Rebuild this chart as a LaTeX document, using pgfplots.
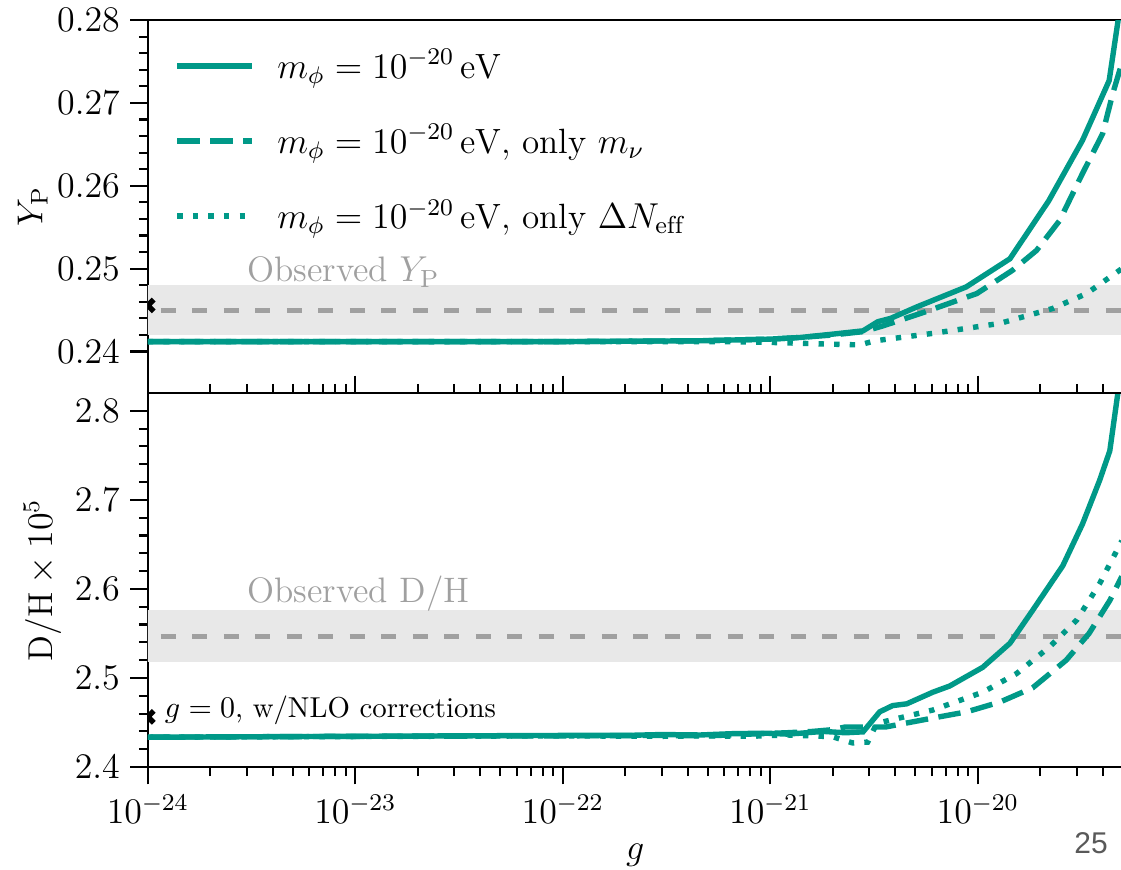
\documentclass[border=0pt]{standalone}
\usepackage{fontspec}
\newfontfamily\pagefont{Liberation Sans}
\usepackage{pgfplots}
\pgfplotsset{compat=1.18}

\definecolor{teal1}{HTML}{009988}
\definecolor{bandgray}{HTML}{E8E8E8}
\definecolor{dashgray}{HTML}{A0A0A0}

\begin{document}
\begin{tikzpicture}
\path[use as bounding box] (0,0) rectangle (373.7pt,289.7pt);

% ---------- bottom panel ----------
\begin{axis}[
  scale only axis, width=325pt, height=124.7pt,
  xmode=log, xmin=1e-24, xmax=5e-20,
  at={(49.3pt,34pt)}, anchor=south west,
  axis line style={line width=0.7pt},
  tick style={line width=0.7pt, black},
  major tick length=5.8pt, minor tick length=3pt,
  tick align=outside, ytick pos=left,
  font=\fontsize{11.5}{14}\selectfont,
  clip marker paths=true,
  ymin=2.4, ymax=2.82,
  ytick={2.4,2.5,2.6,2.7,2.8},
  minor y tick num=4,
  yticklabel style={/pgf/number format/.cd, fixed, fixed zerofill, precision=1},
  xtick pos=both, xticklabel pos=lower,
  xlabel={$g$},
  ylabel={$\mathrm{D/H}\times 10^5$},
  ylabel style={yshift=-2.3pt},
]
\addplot[fill=bandgray, draw=none, forget plot] coordinates {(1e-25,2.518) (1e-19,2.518) (1e-19,2.576) (1e-25,2.576)} -- cycle;
\addplot[dashgray, line width=1.7pt, dash pattern=on 5pt off 5.5pt, forget plot] coordinates {(1e-25,2.547) (1e-19,2.547)};
\node[anchor=base west, inner sep=0pt, text=dashgray, font=\fontsize{11.8}{14}\selectfont] at (axis cs:3e-24,2.585) {Observed D/H};
\addplot[only marks, mark=x, mark size=2.8pt, black, line width=1.8pt, forget plot] coordinates {(1e-24,2.4564)};
\node[anchor=base west, inner sep=0pt, font=\fontsize{9.6}{11}\selectfont] at (axis cs:1.2e-24,2.4555) {$g=0$, w/NLO corrections};

\addplot[teal1, line width=1.8pt] coordinates {(1e-24,2.4335) (3e-24,2.4340) (1e-23,2.4345) (3e-23,2.4350) (1e-22,2.4355) (2e-22,2.4355) (3e-22,2.4365) (4.6e-22,2.4360) (6.6e-22,2.4375) (9.6e-22,2.4380) (1.2e-21,2.4370) (1.4e-21,2.4380) (1.8e-21,2.4400) (2.3e-21,2.4385) (2.8e-21,2.4395) (3.37e-21,2.462) (3.89e-21,2.469) (4.55e-21,2.471) (6.07e-21,2.484) (7.33e-21,2.491) (1.057e-20,2.512) (1.43e-20,2.539) (1.84e-20,2.576) (2.57e-20,2.626) (3.2e-20,2.673) (3.87e-20,2.722) (4.33e-20,2.755) (4.73e-20,2.819) (4.95e-20,2.86)};
\addplot[teal1, line width=1.8pt, dash pattern=on 7.5pt off 3.5pt] coordinates {(1e-24,2.4335) (1e-23,2.4345) (1e-22,2.4350) (3e-22,2.4355) (5e-22,2.4350) (8e-22,2.4370) (1.2e-21,2.4385) (1.6e-21,2.4400) (2.0e-21,2.4420) (2.3e-21,2.4450) (2.9e-21,2.4450) (3.6e-21,2.4450) (6.07e-21,2.455) (8.85e-21,2.462) (1.28e-20,2.473) (1.84e-20,2.489) (2.67e-20,2.520) (3.44e-20,2.550) (4.33e-20,2.587) (4.95e-20,2.614)};
\addplot[teal1, line width=1.8pt, dash pattern=on 1.8pt off 3.4pt] coordinates {(1e-24,2.4335) (1e-22,2.4350) (3e-22,2.4345) (5e-22,2.4350) (8e-22,2.4345) (1.2e-21,2.4360) (1.6e-21,2.4350) (2.0e-21,2.4340) (2.5e-21,2.427) (2.95e-21,2.428) (3.26e-21,2.449) (6.07e-21,2.464) (1.057e-20,2.484) (1.54e-20,2.505) (2.22e-20,2.535) (3.0e-20,2.565) (3.87e-20,2.606) (4.95e-20,2.654)};
\end{axis}

% ---------- top panel ----------
\begin{axis}[
  scale only axis, width=325pt, height=124.3pt,
  xmode=log, xmin=1e-24, xmax=5e-20,
  at={(49.3pt,158.7pt)}, anchor=south west,
  axis line style={line width=0.7pt},
  tick style={line width=0.7pt, black},
  major tick length=5.8pt, minor tick length=3pt,
  tick align=outside, ytick pos=left,
  font=\fontsize{11.5}{14}\selectfont,
  clip marker paths=true,
  ymin=0.235, ymax=0.28,
  ytick={0.24,0.25,0.26,0.27,0.28},
  minor y tick num=4,
  yticklabel style={/pgf/number format/.cd, fixed, fixed zerofill, precision=2},
  xmajorticks=false, xminorticks=false,
  ylabel={$Y_{\mathrm{P}}$},
  ylabel style={yshift=-3.7pt},
  legend cell align=left,
  legend style={draw=none, fill=none, at={(0.0175,0.955)}, anchor=north west,
    row sep=10pt, font=\fontsize{11.7}{14}\selectfont,
    nodes={inner xsep=0pt},
    /tikz/every odd column/.append style={column sep=7.5pt}},
  legend image code/.code={\draw[#1] (0pt,0pt) -- (25pt,0pt);},
]
\addplot[fill=bandgray, draw=none, forget plot] coordinates {(1e-25,0.242) (1e-19,0.242) (1e-19,0.248) (1e-25,0.248)} -- cycle;
\addplot[dashgray, line width=1.7pt, dash pattern=on 5pt off 5.5pt, forget plot] coordinates {(1e-25,0.245) (1e-19,0.245)};
\node[anchor=base west, inner sep=0pt, text=dashgray, font=\fontsize{11.8}{14}\selectfont] at (axis cs:3e-24,0.2484) {Observed $Y_{\mathrm{P}}$};
\addplot[only marks, mark=x, mark size=2.8pt, black, line width=1.8pt, forget plot] coordinates {(1e-24,0.24556)};

\addplot[teal1, line width=1.8pt] coordinates {(1e-24,0.2412) (1e-23,0.2412) (1e-22,0.2412) (4.6e-22,0.2413) (1.0e-21,0.2415) (1.4e-21,0.2417) (2.0e-21,0.2421) (2.8e-21,0.2425) (3.3e-21,0.2436) (3.8e-21,0.2440) (5.1e-21,0.2454) (8.8e-21,0.2478) (1.43e-20,0.2512) (2.2e-20,0.2582) (3.2e-20,0.2655) (4.3e-20,0.2727) (4.75e-20,0.2800) (4.95e-20,0.2850)};
\addlegendentry{$m_\phi = 10^{-20}\,\mathrm{eV}$}
\addplot[teal1, line width=1.8pt, dash pattern=on 7.5pt off 3.5pt] coordinates {(1e-24,0.2412) (1e-23,0.2412) (1e-22,0.2412) (4.6e-22,0.2413) (1.0e-21,0.2415) (1.4e-21,0.2417) (2.0e-21,0.2420) (2.8e-21,0.2424) (3.5e-21,0.2431) (5.6e-21,0.2448) (9.9e-21,0.2470) (1.47e-20,0.2498) (1.92e-20,0.2522) (2.48e-20,0.2558) (3.2e-20,0.2615) (4.0e-20,0.2663) (4.47e-20,0.2711) (4.95e-20,0.2748)};
\addlegendentry{$m_\phi = 10^{-20}\,\mathrm{eV}$, only $m_\nu$}
\addplot[teal1, line width=1.8pt, dash pattern=on 1.8pt off 3.4pt] coordinates {(1e-24,0.2412) (1e-22,0.2412) (6e-22,0.2412) (1.0e-21,0.2411) (1.9e-21,0.2409) (2.7e-21,0.2408) (3.2e-21,0.2413) (6.1e-21,0.2422) (1.28e-20,0.2434) (2.3e-20,0.2452) (3.35e-20,0.2470) (4.95e-20,0.2500)};
\addlegendentry{$m_\phi = 10^{-20}\,\mathrm{eV}$, only $\Delta N_{\mathrm{eff}}$}
\end{axis}

\node[text=black!65, font=\pagefont\fontsize{10}{12}\selectfont] at (363.7pt,8.7pt) {25};
\end{tikzpicture}
\end{document}
